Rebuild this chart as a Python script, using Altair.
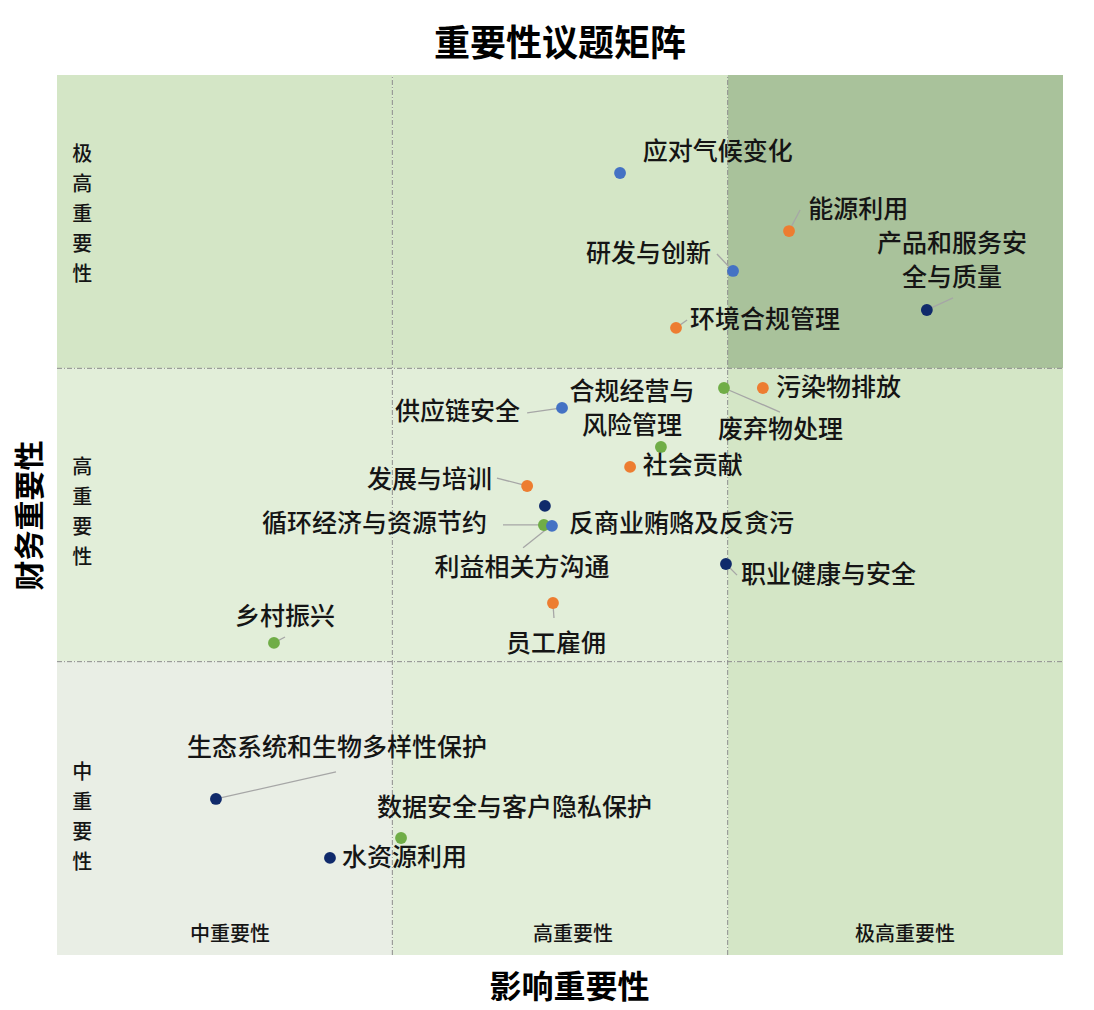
import altair as alt
import pandas as pd

FONT = "Noto Sans CJK SC"

# ---------- background cells (impact x financial levels) ----------
cell_x0 = [0, 1, 2, 0, 1, 2, 0, 1, 2]
cell_y0 = [2, 2, 2, 1, 1, 1, 0, 0, 0]
cell_color = ["#d4e6c6", "#d4e6c6", "#a9c29b",
              "#e2eed9", "#e2eed9", "#d4e6c6",
              "#e9eee5", "#e2eed9", "#d4e6c6"]

# ---------- topics ----------
names = ["应对气候变化", "能源利用", "研发与创新", "产品和服务安\n全与质量", "环境合规管理",
         "污染物排放", "废弃物处理", "供应链安全", "合规经营与\n风险管理", "社会贡献",
         "发展与培训", "利益相关方沟通", "循环经济与资源节约", "反商业贿赂及反贪污", "职业健康与安全",
         "员工雇佣", "乡村振兴", "生态系统和生物多样性保护", "数据安全与客户隐私保护", "水资源利用"]
impact = [1.679, 2.183, 2.016, 2.594, 1.846,
          2.105, 1.989, 1.506, 1.801, 1.709,
          1.402, 1.455, 1.452, 1.476, 1.995,
          1.479, 0.647, 0.474, 1.026, 0.814]
financial = [2.666, 2.468, 2.332, 2.199, 2.138,
             1.933, 1.933, 1.865, 1.732, 1.664,
             1.599, 1.531, 1.466, 1.463, 1.333,
             1.200, 1.064, 0.532, 0.399, 0.331]
group = ["blue", "orange", "blue", "navy", "orange",
         "orange", "green", "blue", "green", "orange",
         "orange", "navy", "green", "blue", "navy",
         "orange", "green", "navy", "green", "navy"]
label_x = [1.747, 2.240, 1.950, 2.669, 1.888,
           2.144, 1.971, 1.381, 1.715, 1.747,
           1.297, 1.387, 1.282, 1.527, 2.040,
           1.488, 0.680, 0.388, 0.954, 0.850]
label_y = [2.737, 2.540, 2.390, 2.424, 2.165,
           1.933, 1.790, 1.851, 1.919, 1.667,
           1.619, 1.319, 1.469, 1.469, 1.295,
           1.060, 1.152, 0.706, 0.501, 0.331]
label_align = ["left", "left", "right", "center", "left",
               "left", "left", "right", "center", "left",
               "right", "center", "right", "left", "left",
               "center", "center", "left", "left", "left"]

# ---------- leader lines ----------
lead_x0 = [2.183, 2.016, 2.594, 1.846, 1.989, 1.506, 1.402, 1.452, 1.464, 1.995, 1.479, 0.647, 0.474]
lead_y0 = [2.468, 2.332, 2.199, 2.138, 1.933, 1.865, 1.599, 1.466, 1.456, 1.333, 1.200, 1.064, 0.532]
lead_x1 = [2.216, 1.968, 2.672, 1.879, 2.156, 1.402, 1.312, 1.330, 1.390, 2.028, 1.482, 0.680, 0.832]
lead_y1 = [2.540, 2.390, 2.240, 2.165, 1.851, 1.848, 1.626, 1.466, 1.388, 1.295, 1.149, 1.084, 0.624]

# ---------- level labels ----------
row_text = ["极\n高\n重\n要\n性", "高\n重\n要\n性", "中\n重\n要\n性"]
row_x = [0.075, 0.075, 0.075]
row_y = [2.727, 1.660, 0.620]
col_text = ["中重要性", "高重要性", "极高重要性"]
col_x = [0.516, 1.539, 2.529]
col_y = [0.068, 0.068, 0.068]

palette = {"blue": "#4472c4", "orange": "#ed7d31", "green": "#70ad47", "navy": "#102a6b"}

cells = pd.DataFrame({"x0": cell_x0, "y0": cell_y0, "color": cell_color})
cells["x1"] = cells["x0"] + 1
cells["y1"] = cells["y0"] + 1

pts = pd.DataFrame({"name": names, "x": impact, "y": financial, "group": group,
                    "lx": label_x, "ly": label_y, "align": label_align})
pts["color"] = pts["group"].map(palette)

leads = pd.DataFrame({"x0": lead_x0, "y0": lead_y0, "x1": lead_x1, "y1": lead_y1})
rows = pd.DataFrame({"t": row_text, "x": row_x, "y": row_y})
cols = pd.DataFrame({"t": col_text, "x": col_x, "y": col_y})
vgrid = pd.DataFrame({"x": [1, 2], "y0": [0, 0], "y1": [3, 3]})
hgrid = pd.DataFrame({"y": [1, 2], "x0": [0, 0], "x1": [3, 3]})

xs = alt.Scale(domain=[0, 3], nice=False, zero=False)
ys = alt.Scale(domain=[0, 3], nice=False, zero=False)

x_axis = alt.Axis(title="影响重要性", labels=False, ticks=False, domain=False, grid=False,
                  titleFont=FONT, titleFontSize=32, titleFontWeight="bold", titleColor="#000000",
                  titlePadding=17, titleX=512)
y_axis = alt.Axis(title="财务重要性", labels=False, ticks=False, domain=False, grid=False,
                  titleFont=FONT, titleFontSize=30, titleFontWeight="bold", titleColor="#000000",
                  titlePadding=12)

bg = alt.Chart(cells).mark_rect().encode(
    x=alt.X("x0:Q", scale=xs, axis=x_axis),
    x2="x1:Q",
    y=alt.Y("y0:Q", scale=ys, axis=y_axis),
    y2="y1:Q",
    color=alt.Color("color:N", scale=None),
)

dash = [5, 2, 1, 2]
vlines = alt.Chart(vgrid).mark_rule(color="#8c8c8c", strokeWidth=1, strokeDash=dash).encode(
    x=alt.X("x:Q", scale=xs), y=alt.Y("y0:Q", scale=ys), y2="y1:Q")
hlines = alt.Chart(hgrid).mark_rule(color="#8c8c8c", strokeWidth=1, strokeDash=dash).encode(
    y=alt.Y("y:Q", scale=ys), x=alt.X("x0:Q", scale=xs), x2="x1:Q")

leaders = alt.Chart(leads).mark_rule(color="#a6a6a6", strokeWidth=1.3).encode(
    x=alt.X("x0:Q", scale=xs), y=alt.Y("y0:Q", scale=ys), x2="x1:Q", y2="y1:Q")

dots = alt.Chart(pts).mark_circle(size=140, opacity=1).encode(
    x=alt.X("x:Q", scale=xs), y=alt.Y("y:Q", scale=ys),
    color=alt.Color("color:N", scale=None))

label_layers = []
for al in ["left", "right", "center"]:
    label_layers.append(
        alt.Chart(pts).transform_filter(alt.datum.align == al).mark_text(
            align=al, baseline="middle", font=FONT, fontSize=25, fontWeight=500, color="#151515",
            lineBreak="\n", lineHeight=34).encode(
            x=alt.X("lx:Q", scale=xs), y=alt.Y("ly:Q", scale=ys), text="name:N"))

row_labels = alt.Chart(rows).mark_text(
    align="center", baseline="middle", font=FONT, fontSize=20, fontWeight=500, color="#151515",
    lineBreak="\n", lineHeight=30).encode(
    x=alt.X("x:Q", scale=xs), y=alt.Y("y:Q", scale=ys), text="t:N")

col_labels = alt.Chart(cols).mark_text(
    align="center", baseline="middle", font=FONT, fontSize=20, fontWeight=500, color="#151515").encode(
    x=alt.X("x:Q", scale=xs), y=alt.Y("y:Q", scale=ys), text="t:N")

chart = alt.layer(bg, vlines, hlines, leaders, dots, *label_layers, row_labels, col_labels).properties(
    width=1006, height=880,
    title=alt.TitleParams(text="重要性议题矩阵", font=FONT, fontSize=36, fontWeight="bold",
                          color="#000000", anchor="middle", offset=11),
    autosize=alt.AutoSizeParams(type="none"),
    padding={"left": 49, "top": 67, "right": 23, "bottom": 55},
    background="#ffffff",
).configure_view(stroke=None)

chart.save("out.html", embed_options={"renderer": "svg", "actions": False})
